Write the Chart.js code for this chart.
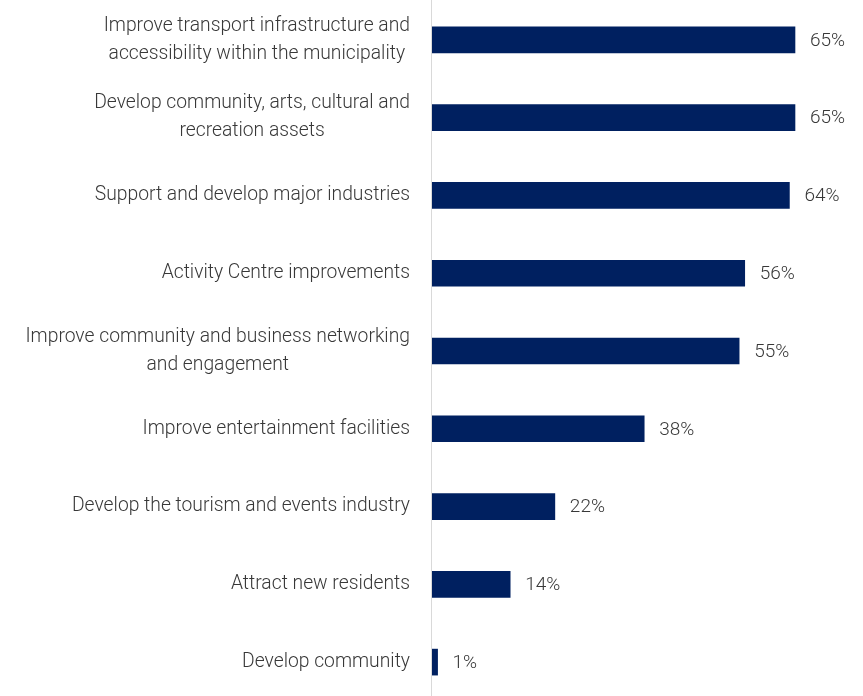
<!DOCTYPE html>
<html lang="en">

<head>
    <meta charset="UTF-8">
    <title>priorities</title>
    <script src="https://cdn.jsdelivr.net/npm/chart.js"></script>
    <style>
        html, body { margin: 0; padding: 0; background: #fff; overflow: hidden; }
        #wrap { position: absolute; left: 0; top: 0; width: 863px; height: 702px; }
    </style>
</head>

<body>
    <div id="wrap">
        <canvas id="prioChart" width="863" height="702"></canvas>
    </div>

    <script>
        // categories (multi-line labels are arrays of lines)
        const categories = [
            ['Improve transport infrastructure and', 'accessibility within the municipality'],
            ['Develop community, arts, cultural and', 'recreation assets'],
            'Support and develop major industries',
            'Activity Centre improvements',
            ['Improve community and business networking', 'and engagement'],
            'Improve entertainment facilities',
            'Develop the tourism and events industry',
            'Attract new residents',
            'Develop community'
        ];
        const percentages = [65, 65, 64, 56, 55, 38, 22, 14, 1];

        const textColor = '#383838';
        const labelFont = '300 19.3px Roboto';
        const valueFont = '300 19px Roboto';

        // draws the zero line, the category text and the value labels
        const labelPlugin = {
            id: 'labels',
            afterDatasetsDraw(chart) {
                const ctx = chart.ctx;
                const area = chart.chartArea;
                const yScale = chart.scales.y;
                ctx.save();

                // axis line
                const x0 = Math.round(chart.scales.x.getPixelForValue(0)) - 0.5;
                ctx.strokeStyle = '#d9d9d9';
                ctx.lineWidth = 1;
                ctx.beginPath();
                ctx.moveTo(x0, 0);
                ctx.lineTo(x0, chart.height);
                ctx.stroke();

                ctx.font = labelFont;
                ctx.fillStyle = textColor;
                ctx.textBaseline = 'middle';

                // category labels: block right aligned, lines centred within it
                categories.forEach((lab, i) => {
                    const lines = Array.isArray(lab) ? lab : [lab];
                    const w = Math.max(...lines.map(l => ctx.measureText(l).width));
                    const right = area.left - 22;
                    const cx = right - w / 2;
                    const cy = yScale.getPixelForValue(i);
                    ctx.textAlign = 'center';
                    lines.forEach((l, k) => {
                        ctx.fillText(l, cx, cy + (k - (lines.length - 1) / 2) * 28);
                    });
                });

                // value labels
                ctx.font = valueFont;
                ctx.textAlign = 'left';
                chart.getDatasetMeta(0).data.forEach((bar, i) => {
                    ctx.fillText(percentages[i] + '%', bar.x + 15, bar.y + 1);
                });
                ctx.restore();
            }
        };

        function draw() {
            const ctx = document.getElementById('prioChart').getContext('2d');
            new Chart(ctx, {
                type: 'bar',
                data: {
                    labels: categories,
                    datasets: [{
                        data: percentages,
                        backgroundColor: '#002060',
                        borderWidth: 0,
                        barThickness: 26
                    }]
                },
                options: {
                    indexAxis: 'y',
                    responsive: false,
                    animation: false,
                    layout: { padding: { left: 432, right: 1, top: 1, bottom: 1 } },
                    plugins: {
                        legend: { display: false },
                        tooltip: { enabled: false }
                    },
                    scales: {
                        x: { display: false, min: 0, max: 77 },
                        y: { display: false }
                    }
                },
                plugins: [labelPlugin]
            });
        }

        if (document.fonts && document.fonts.load) {
            document.fonts.load(labelFont).then(draw, draw);
        } else {
            draw();
        }
    </script>
</body>

</html>
